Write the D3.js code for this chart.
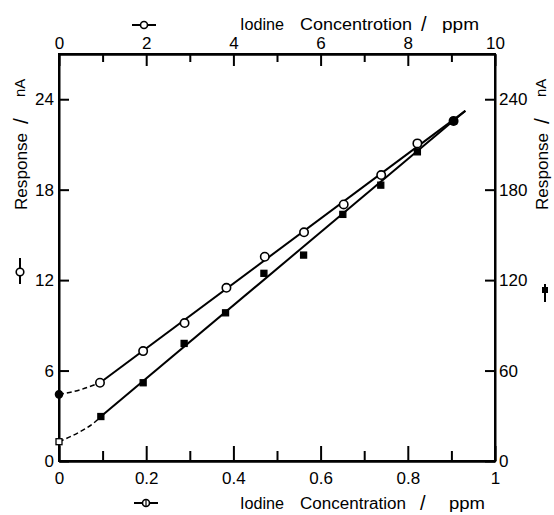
<!DOCTYPE html>
<html>
<head>
<meta charset="utf-8">
<script src="https://cdn.jsdelivr.net/npm/d3@7"></script>
<style>
  body { margin: 0; background: #fff; }
  svg { display: block; font-family: "Liberation Sans", Arial, sans-serif; }
  .axis path, .axis line { stroke: #000; stroke-width: 2; }
  .axis text { font-size: 17px; fill: #000; font-family: "Liberation Sans", Arial, sans-serif; }
  .ttl { font-size: 16px; fill: #000; }
</style>
</head>
<body>
<svg id="chart" width="554" height="515"></svg>
<script>
// readings
const xCircle = [0, 0.094, 0.193, 0.288, 0.384, 0.472, 0.562, 0.653, 0.739, 0.822, 0.905];
const yCircle = [4.42, 5.19, 7.29, 9.15, 11.49, 13.55, 15.17, 17.02, 18.97, 21.07, 22.55];
const xSquare = [0, 0.096, 0.193, 0.287, 0.382, 0.470, 0.561, 0.651, 0.738, 0.822, 0.905];
const ySquare = [1.28, 2.95, 5.19, 7.80, 9.83, 12.45, 13.66, 16.36, 18.30, 20.51, 22.55];

// fitted lines and the dashed low-end curves
const circleFit = [[0.094, 5.19], [0.932, 23.23]];
const squareFit = [[0.096, 2.95], [0.932, 23.23]];
const circleLead = [[0, 4.42], [0.048, 4.72], [0.094, 5.19]];
const squareLead = [[0, 1.28], [0.048, 1.94], [0.079, 2.5], [0.096, 2.95]];

// ticks
const bottomMajor = [0, 0.2, 0.4, 0.6, 0.8, 1];
const bottomMinor = [0.1, 0.3, 0.5, 0.7, 0.9];
const topMajor = [0, 2, 4, 6, 8, 10];
const topMinor = [1, 3, 5, 7, 9];
const leftTicks = [0, 6, 12, 18, 24];
const rightTicks = [0, 60, 120, 180, 240];

const svg = d3.select("#chart");
const L = 59, R = 495, T = 54, B = 461;

const x = d3.scaleLinear().domain([0, 1]).range([L, R]);
const xTop = d3.scaleLinear().domain([0, 10]).range([L, R]);
const y = d3.scaleLinear().domain([0, 27]).range([B, T]);
const yR = d3.scaleLinear().domain([0, 270]).range([B, T]);

// frame
svg.append("rect")
  .attr("x", L).attr("y", T).attr("width", R - L).attr("height", B - T)
  .attr("fill", "none").attr("stroke", "#000").attr("stroke-width", 2);

// bottom axis
svg.append("g").attr("class", "axis").attr("transform", `translate(0,${B})`)
  .call(d3.axisBottom(x).tickValues(bottomMajor).tickSizeInner(-15).tickSizeOuter(0)
    .tickPadding(11).tickFormat(d => d === 0 || d === 1 ? d : d3.format(".1f")(d)));
svg.append("g").attr("class", "axis").attr("transform", `translate(0,${B})`)
  .call(d3.axisBottom(x).tickValues(bottomMinor).tickSizeInner(-10).tickSizeOuter(0).tickFormat(""));

// top axis
svg.append("g").attr("class", "axis").attr("transform", `translate(0,${T})`)
  .call(d3.axisTop(xTop).tickValues(topMajor).tickSizeInner(-12).tickSizeOuter(0).tickPadding(5));
svg.append("g").attr("class", "axis").attr("transform", `translate(0,${T})`)
  .call(d3.axisTop(xTop).tickValues(topMinor).tickSizeInner(-8).tickSizeOuter(0).tickFormat(""));

// left and right axes
svg.append("g").attr("class", "axis").attr("transform", `translate(${L},0)`)
  .call(d3.axisLeft(y).tickValues(leftTicks).tickSizeInner(-10).tickSizeOuter(0).tickPadding(5));
svg.append("g").attr("class", "axis").attr("transform", `translate(${R},0)`)
  .call(d3.axisRight(yR).tickValues(rightTicks).tickSizeInner(-10).tickSizeOuter(0).tickPadding(4));

svg.selectAll(".axis .tick").filter(d => d === 0)
  .select("line").attr("stroke", "none");

// lines
const line = d3.line().x(d => x(d[0])).y(d => y(d[1]));
const curve = d3.line().x(d => x(d[0])).y(d => y(d[1])).curve(d3.curveMonotoneX);

[circleFit, squareFit].forEach(p => {
  svg.append("path").attr("d", line(p))
    .attr("fill", "none").attr("stroke", "#000").attr("stroke-width", 2);
});
[circleLead, squareLead].forEach(p => {
  svg.append("path").attr("d", curve(p))
    .attr("fill", "none").attr("stroke", "#000").attr("stroke-width", 1.5)
    .attr("stroke-dasharray", "5,3");
});

// markers
const squares = xSquare.map((v, i) => [v, ySquare[i]]);
const circles = xCircle.map((v, i) => [v, yCircle[i]]);
const last = squares.length - 1;

svg.selectAll(".sq").data(squares).enter().append("rect")
  .attr("class", "sq")
  .attr("x", d => x(d[0]) - 3).attr("y", d => y(d[1]) - 3)
  .attr("width", 6).attr("height", 6)
  .attr("fill", (d, i) => i === 0 ? "#fff" : "#000")
  .attr("stroke", "#000").attr("stroke-width", 1.3);

svg.selectAll(".ci").data(circles).enter().append("circle")
  .attr("class", "ci")
  .attr("cx", d => x(d[0])).attr("cy", d => y(d[1]))
  .attr("r", (d, i) => i === 0 ? 3.5 : 4.2)
  .attr("fill", (d, i) => i === 0 || i === last ? "#000" : "#fff")
  .attr("stroke", "#000").attr("stroke-width", 1.6);

// axis titles
function title(words, yPos) {
  const t = svg.append("text").attr("class", "ttl");
  words.forEach(w => {
    const s = t.append("tspan").attr("x", w[1]).text(w[0]);
    if (w[0] === "/") s.style("font-size", "20px").attr("y", yPos + 1);
    else s.attr("y", yPos).attr("textLength", w[2]).attr("lengthAdjust", "spacingAndGlyphs");
  });
}
title([["Iodine", 240, 44], ["Concentrotion", 300, 112], ["/", 421, 10], ["ppm", 442, 37]], 30);
title([["Iodine", 240, 44], ["Concentration", 300, 106], ["/", 420, 10], ["ppm", 449, 36]], 509);

function sideTitle(xPos) {
  const g = svg.append("g");
  g.append("text").attr("class", "ttl")
    .attr("transform", `translate(${xPos},210) rotate(-90)`)
    .attr("textLength", 77).attr("lengthAdjust", "spacingAndGlyphs").text("Response");
  g.append("text").attr("class", "ttl").style("font-size", "21px")
    .attr("transform", `translate(${xPos + 1},124) rotate(-90)`).text("/");
  g.append("text").attr("class", "ttl").style("font-size", "15px")
    .attr("transform", `translate(${xPos - 2},97) rotate(-90)`).text("nA");
}
sideTitle(27);
sideTitle(548);

// legend glyphs beside the titles
function hSym(cx, cy) {
  svg.append("line").attr("x1", cx - 12).attr("x2", cx + 12).attr("y1", cy).attr("y2", cy)
    .attr("stroke", "#000").attr("stroke-width", 2);
  svg.append("circle").attr("cx", cx).attr("cy", cy).attr("r", 3.5)
    .attr("fill", "#fff").attr("stroke", "#000").attr("stroke-width", 1.6);
}
hSym(144, 25);
hSym(146, 503);
svg.append("line").attr("x1", 146).attr("x2", 146).attr("y1", 499).attr("y2", 507)
  .attr("stroke", "#000").attr("stroke-width", 1.2);

svg.append("line").attr("x1", 20).attr("x2", 20).attr("y1", 258).attr("y2", 284)
  .attr("stroke", "#000").attr("stroke-width", 2);
svg.append("circle").attr("cx", 20).attr("cy", 272).attr("r", 3.8)
  .attr("fill", "#fff").attr("stroke", "#000").attr("stroke-width", 1.6);

svg.append("line").attr("x1", 545).attr("x2", 545).attr("y1", 284).attr("y2", 302)
  .attr("stroke", "#000").attr("stroke-width", 2);
svg.append("rect").attr("x", 542).attr("y", 287).attr("width", 6).attr("height", 6)
  .attr("fill", "#000");
</script>
</body>
</html>
